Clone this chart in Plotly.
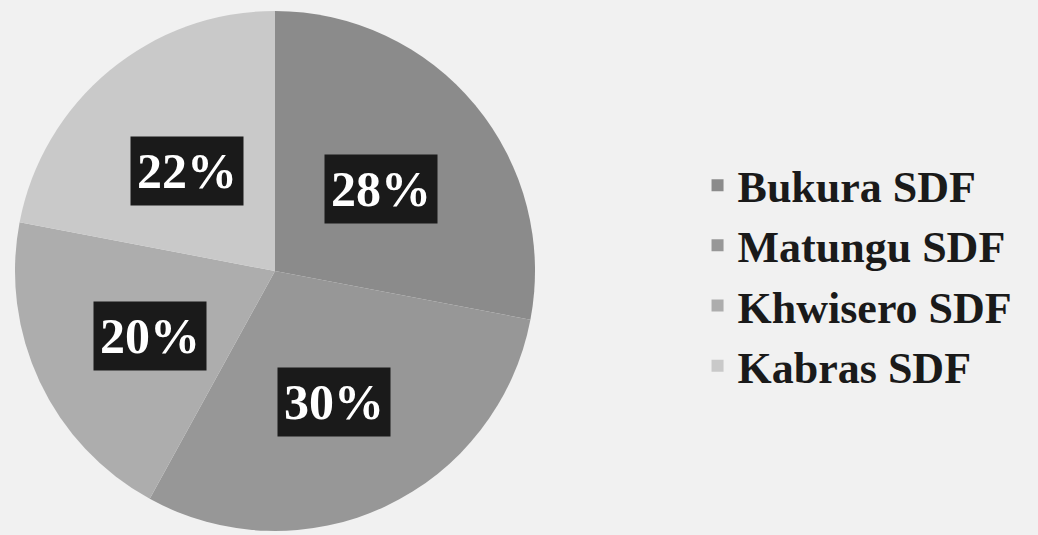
import math
import plotly.graph_objects as go

labels = ["Bukura SDF", "Matungu SDF", "Khwisero SDF", "Kabras SDF"]
values = [28, 30, 20, 22]
colors = ["#8b8b8b", "#979797", "#adadad", "#c9c9c9"]

W, H = 1038, 535
dom_x = [15 / W, 535 / W]
dom_y = [4 / H, 524 / H]

fig = go.Figure(go.Pie(
    labels=labels, values=values, sort=False, direction="clockwise", rotation=0,
    marker=dict(colors=colors, line=dict(width=0)),
    textinfo="none", hoverinfo="label+percent",
    domain=dict(x=dom_x, y=dom_y),
))

# label boxes placed at slice mid-angles, derived from the data
cx = (dom_x[0] + dom_x[1]) / 2 * W
cy = (dom_y[0] + dom_y[1]) / 2 * H
R = min((dom_x[1] - dom_x[0]) * W, (dom_y[1] - dom_y[0]) * H) / 2
total = sum(values)
cum = 0
for v in values:
    mid = (cum + v / 2) / total * 2 * math.pi
    cum += v
    px = cx + 0.53 * R * math.sin(mid)
    py = cy + 0.53 * R * math.cos(mid) - 6
    fig.add_annotation(
        x=px / W, y=py / H, xref="paper", yref="paper",
        xanchor="center", yanchor="middle",
        text=f"<b>{round(v / total * 100)}%</b>", showarrow=False,
        font=dict(family="Liberation Serif", size=50, color="white"),
        bgcolor="#1a1a1a", borderpad=6,
    )

fig.update_layout(
    width=W, height=H,
    margin=dict(l=0, r=0, t=0, b=0),
    paper_bgcolor="#f1f1f1", plot_bgcolor="#f1f1f1",
    legend=dict(
        x=0.672, y=0.485, xanchor="left", yanchor="middle",
        font=dict(family="Liberation Serif", size=44, color="#1a1a1a", weight="bold"),
        itemsizing="constant", tracegroupgap=0,
        bgcolor="rgba(0,0,0,0)",
    ),
    showlegend=True,
)

fig.write_html("out.html", config={"displayModeBar": False},
               post_script="document.body.style.margin='0';document.body.style.overflow='hidden';")
